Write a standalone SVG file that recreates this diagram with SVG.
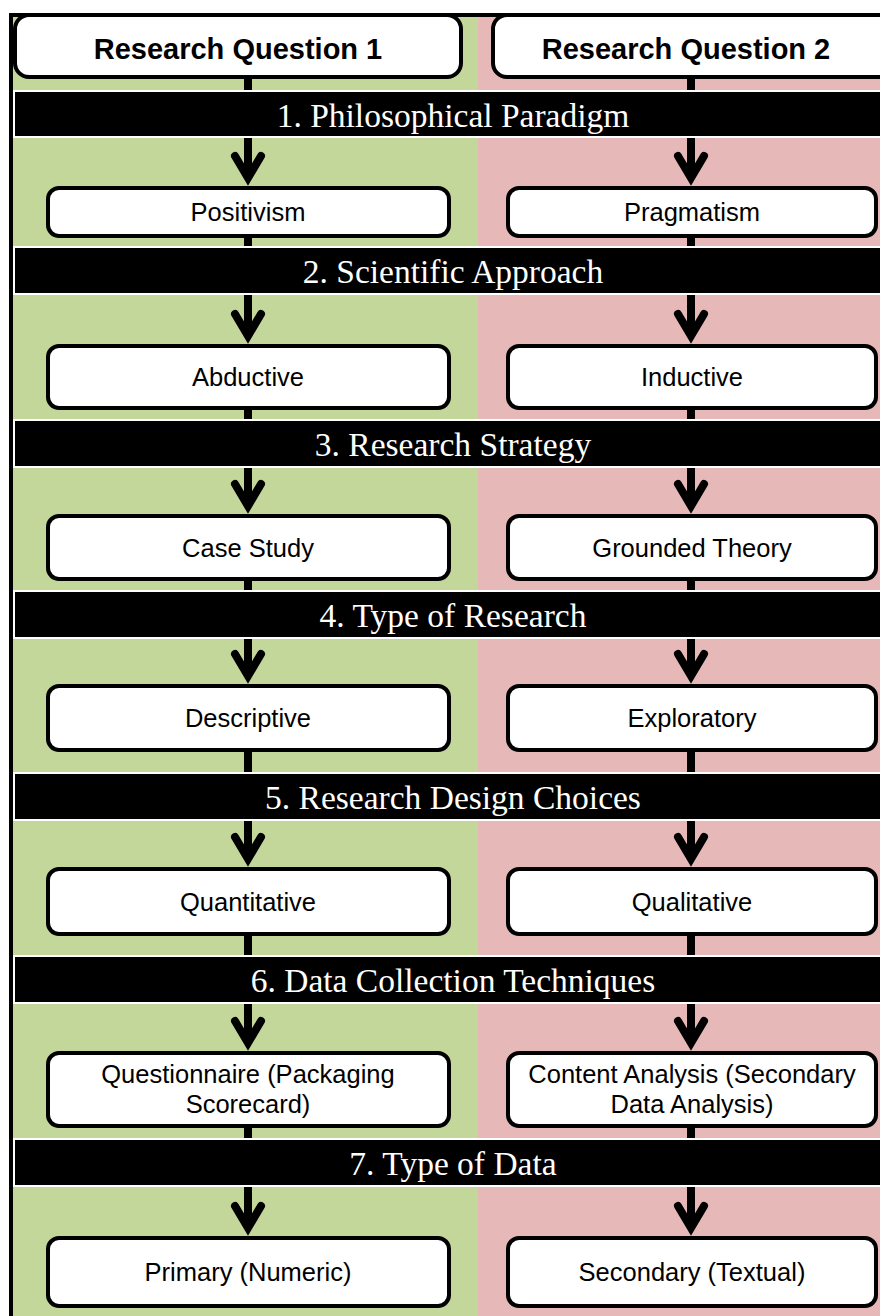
<svg xmlns="http://www.w3.org/2000/svg" width="880" height="1316" viewBox="0 0 880 1316">
<style>
.hdr{fill:#fff;stroke:#000;stroke-width:4}
.hdrt{font-family:"Liberation Sans",Arial,sans-serif;font-weight:bold;font-size:29px;fill:#000;text-anchor:middle}
.bar{fill:#000;stroke:#fff;stroke-width:2}
.bart{font-family:"Liberation Serif","Times New Roman",serif;font-size:33.5px;fill:#fff;text-anchor:middle}
.box{fill:#fff;stroke:#000;stroke-width:4}
.boxt{font-family:"Liberation Sans",Arial,sans-serif;font-size:25.5px;fill:#000;text-anchor:middle}
.stub{stroke:#000;stroke-width:8}
.arr{stroke:#000;stroke-width:8;marker-end:url(#chev)}
</style>
<defs>
<marker id="chev" markerUnits="userSpaceOnUse" orient="auto" refX="0" refY="0" markerWidth="60" markerHeight="60" viewBox="-30 -30 60 60" overflow="visible">
<polyline points="-22,-13 0,0 -22,13" fill="none" stroke="#000" stroke-width="8" stroke-linecap="round" stroke-linejoin="miter"/>
</marker>
</defs>
<rect x="0" y="0" width="880" height="1316" fill="#fff"/>
<rect x="12" y="14" width="466" height="1302" fill="#C4D79B"/>
<rect x="478" y="14" width="402" height="1302" fill="#E6B9B8"/>
<line x1="11" y1="13" x2="11" y2="1316" stroke="#000" stroke-width="4"/>
<line x1="9" y1="15" x2="880" y2="15" stroke="#000" stroke-width="4"/>

<g id="connectors">
<line class="stub" x1="248" y1="78" x2="248" y2="90"/>
<line class="stub" x1="691" y1="78" x2="691" y2="90"/>
<line class="arr" x1="248" y1="137" x2="248" y2="178"/>
<line class="arr" x1="691" y1="137" x2="691" y2="178"/>
<line class="stub" x1="248" y1="237" x2="248" y2="247"/>
<line class="stub" x1="691" y1="237" x2="691" y2="247"/>
<line class="arr" x1="248" y1="294" x2="248" y2="336"/>
<line class="arr" x1="691" y1="294" x2="691" y2="336"/>
<line class="stub" x1="248" y1="409" x2="248" y2="420"/>
<line class="stub" x1="691" y1="409" x2="691" y2="420"/>
<line class="arr" x1="248" y1="467" x2="248" y2="506"/>
<line class="arr" x1="691" y1="467" x2="691" y2="506"/>
<line class="stub" x1="248" y1="580" x2="248" y2="591"/>
<line class="stub" x1="691" y1="580" x2="691" y2="591"/>
<line class="arr" x1="248" y1="638" x2="248" y2="676"/>
<line class="arr" x1="691" y1="638" x2="691" y2="676"/>
<line class="stub" x1="248" y1="751" x2="248" y2="773"/>
<line class="stub" x1="691" y1="751" x2="691" y2="773"/>
<line class="arr" x1="248" y1="820" x2="248" y2="859"/>
<line class="arr" x1="691" y1="820" x2="691" y2="859"/>
<line class="stub" x1="248" y1="935" x2="248" y2="956"/>
<line class="stub" x1="691" y1="935" x2="691" y2="956"/>
<line class="arr" x1="248" y1="1003" x2="248" y2="1043"/>
<line class="arr" x1="691" y1="1003" x2="691" y2="1043"/>
<line class="stub" x1="248" y1="1127" x2="248" y2="1139"/>
<line class="stub" x1="691" y1="1127" x2="691" y2="1139"/>
<line class="arr" x1="248" y1="1186" x2="248" y2="1228"/>
<line class="arr" x1="691" y1="1186" x2="691" y2="1228"/>
</g>

<g id="rq1"><rect class="hdr" x="15" y="15" width="446" height="62" rx="14"/><text class="hdrt" x="238" y="59">Research Question 1</text></g>
<g id="rq2"><rect class="hdr" x="493" y="15" width="420" height="62" rx="14"/><text class="hdrt" x="686" y="59">Research Question 2</text></g>

<g id="bar1"><rect class="bar" x="14" y="91" width="880" height="46"/><text class="bart" x="453" y="127">1. Philosophical Paradigm</text></g>
<g id="bar2"><rect class="bar" x="14" y="247" width="880" height="47"/><text class="bart" x="453" y="283">2. Scientific Approach</text></g>
<g id="bar3"><rect class="bar" x="14" y="420" width="880" height="47"/><text class="bart" x="453" y="456">3. Research Strategy</text></g>
<g id="bar4"><rect class="bar" x="14" y="591" width="880" height="47"/><text class="bart" x="453" y="627">4. Type of Research</text></g>
<g id="bar5"><rect class="bar" x="14" y="773" width="880" height="47"/><text class="bart" x="453" y="809">5. Research Design Choices</text></g>
<g id="bar6"><rect class="bar" x="14" y="956" width="880" height="47"/><text class="bart" x="453" y="992">6. Data Collection Techniques</text></g>
<g id="bar7"><rect class="bar" x="14" y="1139" width="880" height="47"/><text class="bart" x="453" y="1175">7. Type of Data</text></g>

<g id="positivism"><rect class="box" x="48" y="188" width="401" height="48" rx="11"/><text class="boxt" x="248" y="221">Positivism</text></g>
<g id="pragmatism"><rect class="box" x="508" y="188" width="368" height="48" rx="11"/><text class="boxt" x="692" y="221">Pragmatism</text></g>
<g id="abductive"><rect class="box" x="48" y="346" width="401" height="62" rx="11"/><text class="boxt" x="248" y="386">Abductive</text></g>
<g id="inductive"><rect class="box" x="508" y="346" width="368" height="62" rx="11"/><text class="boxt" x="692" y="386">Inductive</text></g>
<g id="casestudy"><rect class="box" x="48" y="516" width="401" height="63" rx="11"/><text class="boxt" x="248" y="557">Case Study</text></g>
<g id="groundedtheory"><rect class="box" x="508" y="516" width="368" height="63" rx="11"/><text class="boxt" x="692" y="557">Grounded Theory</text></g>
<g id="descriptive"><rect class="box" x="48" y="686" width="401" height="64" rx="11"/><text class="boxt" x="248" y="727">Descriptive</text></g>
<g id="exploratory"><rect class="box" x="508" y="686" width="368" height="64" rx="11"/><text class="boxt" x="692" y="727">Exploratory</text></g>
<g id="quantitative"><rect class="box" x="48" y="869" width="401" height="65" rx="11"/><text class="boxt" x="248" y="911">Quantitative</text></g>
<g id="qualitative"><rect class="box" x="508" y="869" width="368" height="65" rx="11"/><text class="boxt" x="692" y="911">Qualitative</text></g>
<g id="questionnaire"><rect class="box" x="48" y="1053" width="401" height="73" rx="11"/><text class="boxt" x="248" y="1083">Questionnaire (Packaging</text><text class="boxt" x="248" y="1113">Scorecard)</text></g>
<g id="contentanalysis"><rect class="box" x="508" y="1053" width="368" height="73" rx="11"/><text class="boxt" x="692" y="1083">Content Analysis (Secondary</text><text class="boxt" x="692" y="1113">Data Analysis)</text></g>
<g id="primary"><rect class="box" x="48" y="1238" width="401" height="68" rx="11"/><text class="boxt" x="248" y="1281">Primary (Numeric)</text></g>
<g id="secondary"><rect class="box" x="508" y="1238" width="368" height="68" rx="11"/><text class="boxt" x="692" y="1281">Secondary (Textual)</text></g>
</svg>
